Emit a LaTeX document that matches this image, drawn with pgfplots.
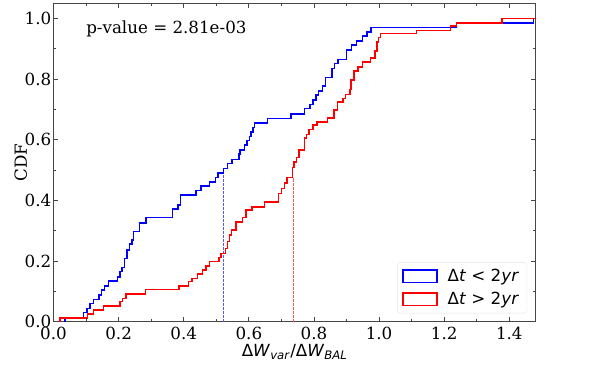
\documentclass[border=0pt]{standalone}
\usepackage{fontspec}
\setmainfont{DejaVu Serif}
\newfontfamily\dvs{DejaVu Sans}
\usepackage{pgfplots}
\pgfplotsset{compat=1.18}
\definecolor{cdfblue}{RGB}{0,0,255}
\definecolor{cdfred}{RGB}{255,0,0}
\definecolor{frame}{RGB}{70,70,70}

\begin{document}
\begin{tikzpicture}[font=\fontsize{16.7}{20}\selectfont]
\begin{axis}[
    at={(0,0)}, anchor=south west,
    scale only axis,
    width=482.2pt, height=318.4pt,
    xmin=0, xmax=1.481,
    ymin=0, ymax=1.05,
    xtick={0,0.2,0.4,0.6,0.8,1.0,1.2,1.4},
    ytick={0,0.2,0.4,0.6,0.8,1.0},
    minor x tick num=1, minor y tick num=1,
    tick align=inside, tick pos=both,
    major tick length=5pt, minor tick length=3pt,
    tick style={frame, line width=0.8pt},
    axis line style={frame, line width=1pt},
    /pgf/number format/assume math mode=true,
    /pgf/number format/.cd, fixed, fixed zerofill, precision=1, /pgfplots/.cd,
    xticklabel style={font=\fontsize{16.7}{20}\selectfont, inner sep=0pt, yshift=-5pt},
    yticklabel style={font=\fontsize{16.7}{20}\selectfont, inner sep=0pt, xshift=-2pt},
    xlabel={{\dvs Δ\textit{W}\textsubscript{\textit{var}}/Δ\textit{W}\textsubscript{\textit{BAL}}}},
    ylabel={CDF},
    x label style={at={(axis description cs:0.5,-0.0952)}, anchor=center},
    y label style={at={(axis description cs:-0.068,0.5)}, anchor=center},
    legend style={at={(axis description cs:1,0)}, anchor=south east,
        xshift=-8.5pt, yshift=8.4pt, draw=black!10, rounded corners=3pt,
        fill=white, font=\dvs\fontsize{16.7}{20}\selectfont,
        inner xsep=5pt, inner ysep=4pt, row sep=3pt, column sep=7pt,
        nodes={inner sep=3pt}},
    legend cell align=left,
    legend image code/.code={\draw[#1, sharp corners, line width=1.3pt] (0pt,-6.2pt) rectangle (34pt,6.2pt);},
]
% median markers
\addplot[cdfblue!65, dash pattern=on 2.5pt off 1.5pt, line width=0.9pt, forget plot]
    coordinates {(0.522,0) (0.522,0.494)};
\addplot[cdfred!65, dash pattern=on 2.5pt off 1.5pt, line width=0.9pt, forget plot]
    coordinates {(0.737,0) (0.737,0.475)};

% dt < 2yr
\addplot[cdfblue, line width=1.5pt, const plot mark left] coordinates {
(0.036,0) (0.036,0.0145) (0.092,0.030) (0.103,0.044) (0.112,0.060) (0.123,0.074)
(0.140,0.088) (0.148,0.104) (0.156,0.118) (0.169,0.134) (0.197,0.148) (0.205,0.165)
(0.210,0.179) (0.218,0.209) (0.225,0.236) (0.233,0.256) (0.241,0.269) (0.245,0.297)
(0.264,0.326) (0.284,0.343) (0.366,0.371) (0.383,0.385) (0.390,0.418) (0.438,0.432)
(0.453,0.447) (0.479,0.461) (0.498,0.475) (0.505,0.491) (0.522,0.506) (0.535,0.522)
(0.549,0.535) (0.569,0.553) (0.573,0.566) (0.587,0.582) (0.594,0.597) (0.602,0.610)
(0.607,0.626) (0.612,0.641) (0.618,0.656) (0.657,0.670) (0.730,0.685) (0.771,0.703)
(0.788,0.717) (0.797,0.731) (0.806,0.747) (0.814,0.761) (0.826,0.777) (0.836,0.806)
(0.855,0.835) (0.863,0.852) (0.874,0.865) (0.900,0.896) (0.915,0.912) (0.930,0.926)
(0.949,0.942) (0.963,0.956) (0.975,0.970) (1.238,0.985) (1.474,1.0) (1.481,1.0)
};
\addlegendentry{Δ\textit{t} < 2\textit{yr}}

% dt > 2yr
\addplot[cdfred, line width=1.5pt, const plot mark left] coordinates {
(0.020,0) (0.020,0.013) (0.105,0.025) (0.123,0.039) (0.153,0.052) (0.205,0.066)
(0.212,0.077) (0.223,0.091) (0.282,0.107) (0.385,0.118) (0.415,0.132) (0.426,0.143)
(0.443,0.157) (0.457,0.170) (0.469,0.184) (0.479,0.198) (0.508,0.212) (0.515,0.225)
(0.528,0.242) (0.535,0.264) (0.541,0.286) (0.546,0.302) (0.561,0.328) (0.580,0.343)
(0.592,0.368) (0.609,0.379) (0.648,0.394) (0.691,0.423) (0.700,0.440) (0.710,0.458)
(0.717,0.475) (0.734,0.509) (0.738,0.527) (0.746,0.542) (0.754,0.566) (0.771,0.605)
(0.777,0.618) (0.785,0.634) (0.797,0.648) (0.809,0.659) (0.842,0.672) (0.862,0.698)
(0.872,0.725) (0.889,0.736) (0.897,0.750) (0.910,0.766) (0.913,0.797) (0.923,0.826)
(0.935,0.840) (0.949,0.856) (0.973,0.870) (0.987,0.893) (0.994,0.923) (0.998,0.937)
(1.004,0.950) (1.115,0.961) (1.220,0.975) (1.238,0.985) (1.377,1.0) (1.481,1.0)
};
\addlegendentry{Δ\textit{t} > 2\textit{yr}}

\node[anchor=west, inner sep=0pt] at (axis cs:0.1,0.965) {p-value = 2.81e-03};
\end{axis}
\pgfresetboundingbox
\path (-53.5pt,-46.3pt) rectangle ++(598pt,368pt);
\end{tikzpicture}
\end{document}
